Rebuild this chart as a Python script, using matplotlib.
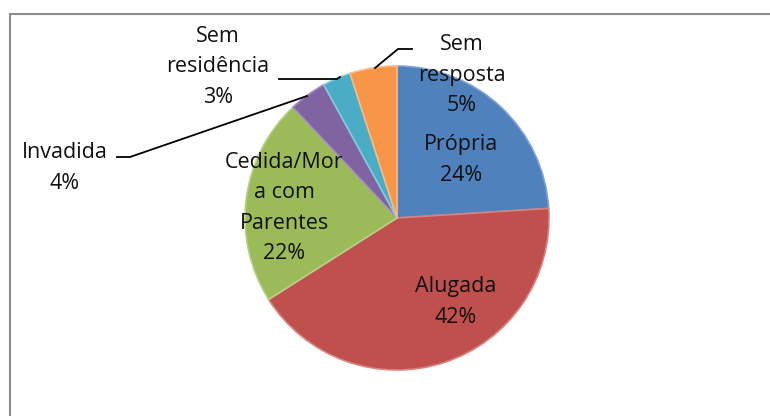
import matplotlib.pyplot as plt
from matplotlib.patches import Rectangle

plt.rcParams['font.family'] = ['Open Sans', 'DejaVu Sans']

# Data
labels = ['Própria', 'Alugada', 'Cedida/Mor\na com\nParentes', 'Invadida', 'Sem\nresidência', 'Sem\nresposta']
values = [24, 42, 22, 4, 3, 5]
colors = ['#4F81BD', '#C0504D', '#9BBB59', '#8064A2', '#4BACC6', '#F79646']
edges = ['#7FA3D4', '#D98280', '#B9D08A', '#A48CC0', '#86CADB', '#F9B987']

W, H = 770, 416
fig = plt.figure(figsize=(W / 100, H / 100), dpi=100)
ax = fig.add_axes([0, 0, 1, 1])

def fy(y):
    # pixel row from the top -> data y
    return H - y

cx, cy, r = 397, fy(218), 152
wedges, _ = ax.pie(values, colors=colors, startangle=90, counterclock=False,
                   center=(cx, cy), radius=r, frame=True,
                   wedgeprops=dict(linewidth=1.2))
for w, e in zip(wedges, edges):
    w.set_edgecolor(e)
ax.set_xlim(0, W)
ax.set_ylim(0, H)
ax.set_aspect('equal')
ax.axis('off')

# chart frame
ax.add_patch(Rectangle((9.5, -10), 800, fy(14) + 10, fill=False, ec='#8c8c8c', lw=1.5))

# label positions (x, y from top)
pos = [(461, 160), (456, 302), (284, 208), (65, 168), (218, 67), (462, 75)]
for lab, v, (x, y) in zip(labels, values, pos):
    ax.text(x, fy(y), f'{lab}\n{v}%', ha='center', va='center', fontsize=15.5,
            linespacing=1.6, color='#111111')

# leader lines
ax.plot([375, 398, 412], [fy(68), fy(49), fy(49)], color='black', lw=1.3)
ax.plot([279, 337, 340], [fy(79), fy(79), fy(77)], color='black', lw=1.3)
ax.plot([117, 130, 307], [fy(157), fy(157), fy(96)], color='black', lw=1.3)

fig.savefig('out.png', dpi=100)
